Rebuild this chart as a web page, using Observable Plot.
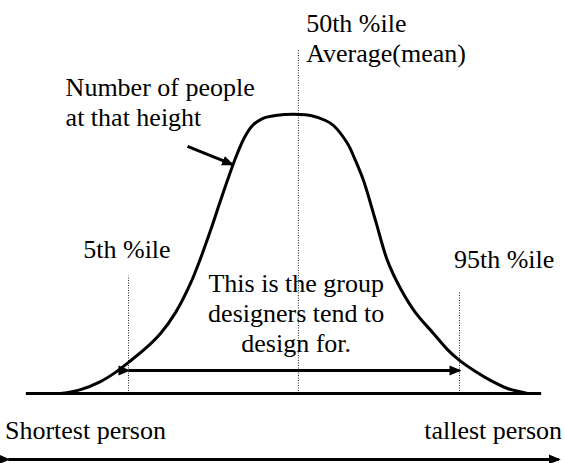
<!DOCTYPE html>
<html>
<head>
<meta charset="utf-8">
<script src="https://cdn.jsdelivr.net/npm/d3@7"></script>
<script src="https://cdn.jsdelivr.net/npm/@observablehq/plot@0.6"></script>
<style>
  html, body { margin: 0; padding: 0; background: #fff; }
  #chart svg { display: block; }
</style>
</head>
<body>
<div id="chart"></div>
<script>
// Height (cm) and relative number of people at that height
const heights = [148.84, 150.65, 152.46, 153.82, 155.0, 156.54, 157.9, 159.26, 160.62, 161.53, 162.43, 163.34, 164.06, 164.79, 165.51, 166.24, 167.15, 168.32, 170.41, 171.5, 172.86, 173.58, 174.85, 175.57, 176.3, 177.39, 178.47, 179.65, 181.01, 182.64, 183.91, 185.0, 186.45, 187.81, 189.35, 191.17];
const counts  = [0, 1.4, 4.3, 7.6, 11.2, 16.2, 21.6, 29.1, 39.6, 48.6, 58.6, 69.4, 77.7, 85.6, 92.1, 96.4, 98.9, 100, 100.4, 100, 98.2, 96.4, 89.9, 83.8, 76.6, 62.2, 47.8, 37.8, 29.1, 21.6, 15.8, 11.9, 7.9, 4.7, 1.8, 0];

// Percentile guide lines
const guideHeights = [155, 170.4, 185];
const guideTops = [42.4, 123.7, 36.3];

// Design range arrow (5th to 95th percentile)
const rangeFrom = [155];
const rangeTo = [185];
const rangeLevel = [8.3];

// Axis (baseline) and the full-population arrow
const baselineX = [145.7, 192.4];
const populationX = [144.1, 194.0];
const populationLevel = -23.7;

// Pointer arrow to the curve
const pointerFrom = [160.35, 88.9];
const pointerTo = [164.4, 82.4];

// Labels
const labelText = ["50th %ile\nAverage(mean)", "Number of people\nat that height", "5th %ile", "95th %ile"];
const labelX = [171.1, 149.3, 150.9, 184.5];
const labelY = [119.1, 96.4, 48.9, 45.3];
const centerText = ["This is the group\ndesigners tend to\ndesign for."];
const centerX = [170.2];
const centerY = [14.75];
const leftEndText = ["Shortest person"];
const leftEndX = [143.8];
const rightEndText = ["tallest person"];
const rightEndX = [194.3];
const endY = -16.2;

const curve = heights.map((h, i) => ({h, c: counts[i]}));
const guides = guideHeights.map((h, i) => ({h, top: guideTops[i]}));
const labels = labelText.map((t, i) => ({t, x: labelX[i], y: labelY[i]}));
const centers = centerText.map((t, i) => ({t, x: centerX[i], y: centerY[i]}));
const leftEnds = leftEndText.map((t, i) => ({t, x: leftEndX[i], y: endY}));
const rightEnds = rightEndText.map((t, i) => ({t, x: rightEndX[i], y: endY}));

const font = "'Liberation Serif', 'Times New Roman', serif";

const chart = Plot.plot({
  width: 565,
  height: 463,
  marginLeft: 0, marginRight: 0, marginTop: 0, marginBottom: 0,
  style: {background: "#fff", fontFamily: font, fontSize: "26px", color: "#000"},
  x: {domain: [155, 185], range: [128, 459], axis: null},
  y: {domain: [0, 100], range: [393, 115], axis: null},
  marks: [
    // dotted guides
    Plot.link(guides, {x1: "h", x2: "h", y1: 0, y2: "top", stroke: "#222", strokeWidth: 1, strokeDasharray: "1,1.5"}),
    // baseline
    Plot.link([0], {x1: baselineX[0], x2: baselineX[1], y1: 0, y2: 0, stroke: "#000", strokeWidth: 3}),
    // distribution curve
    Plot.line(curve, {x: "h", y: "c", curve: "catmull-rom", stroke: "#000", strokeWidth: 3}),
    // design range arrow
    Plot.link(rangeFrom.map((f, i) => ({f, t: rangeTo[i], y: rangeLevel[i]})), {x1: "f", x2: "t", y1: "y", y2: "y", stroke: "#000", strokeWidth: 3, markerStart: "arrow", markerEnd: "arrow"}),
    // population arrow
    Plot.link([0], {x1: populationX[0], x2: populationX[1], y1: populationLevel, y2: populationLevel, stroke: "#000", strokeWidth: 3, markerStart: "arrow", markerEnd: "arrow"}),
    // pointer arrow
    Plot.link([0], {x1: pointerFrom[0], y1: pointerFrom[1], x2: pointerTo[0], y2: pointerTo[1], stroke: "#000", strokeWidth: 3, markerEnd: "arrow"}),
    // labels
    Plot.text(labels, {x: "x", y: "y", text: "t", textAnchor: "start", lineAnchor: "bottom", lineHeight: 1.154, fontSize: 26, fontFamily: font, fill: "#000"}),
    Plot.text(centers, {x: "x", y: "y", text: "t", textAnchor: "middle", lineAnchor: "bottom", lineHeight: 1.154, fontSize: 26, fontFamily: font, fill: "#000"}),
    Plot.text(leftEnds, {x: "x", y: "y", text: "t", textAnchor: "start", lineAnchor: "bottom", fontSize: 26, fontFamily: font, fill: "#000"}),
    Plot.text(rightEnds, {x: "x", y: "y", text: "t", textAnchor: "end", lineAnchor: "bottom", fontSize: 26, fontFamily: font, fill: "#000"})
  ]
});

// filled triangular arrowheads
chart.querySelectorAll("marker").forEach(m => {
  m.setAttribute("fill", "#000");
  m.setAttribute("stroke", "none");
  const p = m.querySelector("path");
  if (p) p.setAttribute("d", "M-5,-2.5L1,0L-5,2.5Z");
});

document.getElementById("chart").appendChild(chart);
</script>
</body>
</html>
